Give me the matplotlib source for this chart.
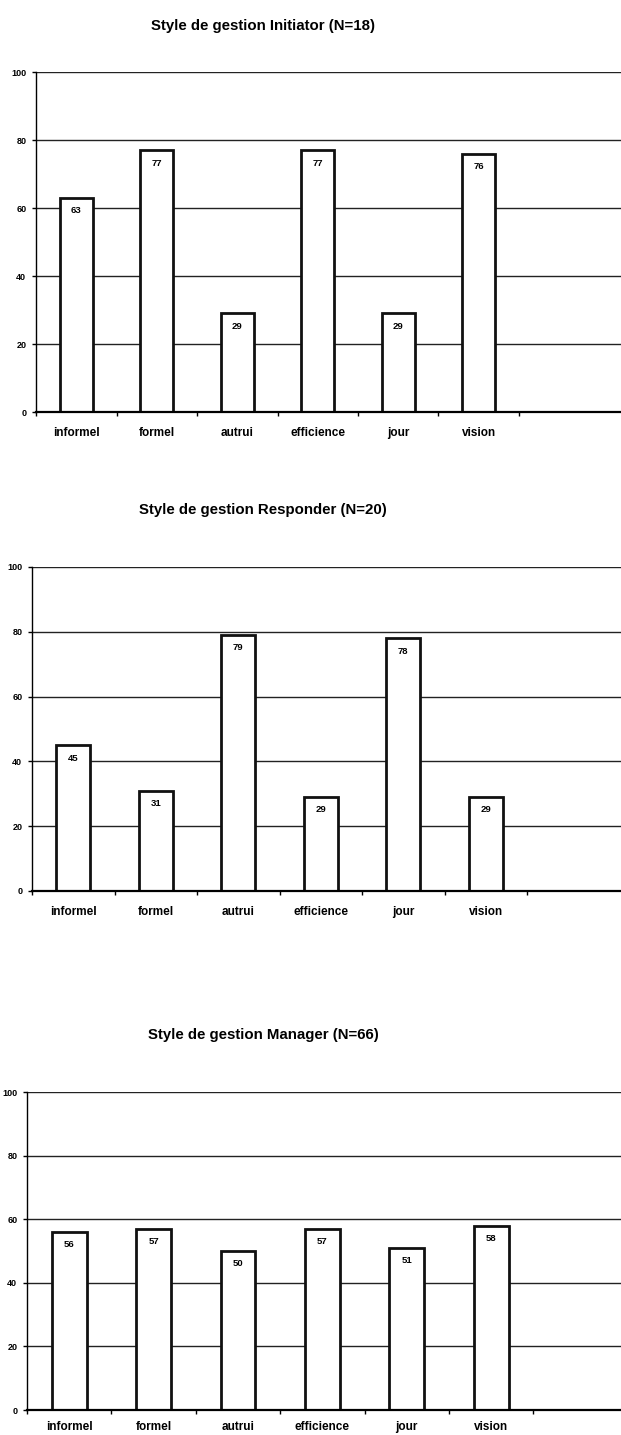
#!/usr/bin/env python3
## Three bar charts - "Style de gestion" scores per category
import numpy as np
import matplotlib
matplotlib.use("Agg")
from matplotlib import pyplot as plt

##################---------Data---------########################################
categories = ['informel', 'formel', 'autrui', 'efficience', 'jour', 'vision']

titles = ['Style de gestion Initiator (N=18)',
          'Style de gestion Responder (N=20)',
          'Style de gestion Manager (N=66)']

initiator = [63, 77, 29, 77, 29, 76]
responder = [45, 31, 79, 29, 78, 29]
manager = [56, 57, 50, 57, 51, 58]

y_ticks = [0, 20, 40, 60, 80, 100]

##################---------Layout (pixels of the page)---------#################
W, H = 621, 1435
# left axis x, y of 100, y of 0, width of one category, title y, label pad
panels = [(36, 72, 412, 80.5, 26, 11),
          (32, 567, 891, 82.5, 510, 11),
          (27, 1092, 1410, 84.4, 1035, 8)]

plt.rcParams['font.family'] = ['Liberation Sans', 'DejaVu Sans']


def draw_panel(fig, values, title, layout):
    x0, ytop, ybot, cat_w, ty, lpad = layout
    ax = fig.add_axes([x0 / W, 1 - ybot / H, 1 - x0 / W, (ybot - ytop) / H])
    n = len(values)
    x = np.arange(n)
    ax.set_xlim(-0.5, (W - x0) / cat_w - 0.5)
    ax.set_ylim(0, 100)

    ## grid lines behind the bars
    for t in y_ticks[1:]:
        ax.axhline(t, color='#222222', lw=1.0, zorder=1)

    bars = ax.bar(x, values, width=0.41, color='white', edgecolor='#111111',
                  linewidth=2.0, zorder=2)
    for b, v in zip(bars, values):
        ax.annotate(str(v), (b.get_x() + b.get_width() / 2, v),
                    xytext=(0, -6), textcoords='offset points',
                    ha='center', va='top', fontsize=6.8, fontweight='bold',
                    zorder=3)

    ## axes look
    for s in ['top', 'right']:
        ax.spines[s].set_visible(False)
    ax.spines['left'].set_linewidth(1.0)
    ax.spines['bottom'].set_linewidth(1.6)
    ax.set_yticks(y_ticks)
    ax.set_yticklabels([str(t) for t in y_ticks], fontsize=6.5,
                       fontweight='bold')
    ax.tick_params(axis='y', length=3, width=1, pad=4)
    ax.set_xticks(x)
    ax.set_xticklabels(categories, fontsize=8.5, fontweight='bold')
    ax.set_xticks(np.arange(n + 1) - 0.5, minor=True)
    ax.tick_params(axis='x', which='major', length=0, pad=lpad)
    ax.tick_params(axis='x', which='minor', length=3, width=1)

    fig.text(263 / W, 1 - ty / H, title, ha='center', va='center',
             fontsize=10.8, fontweight='bold')
    return ax


def main():
    fig = plt.figure(figsize=(W / 100, H / 100), dpi=100)
    fig.patch.set_facecolor('white')
    series = [initiator, responder, manager]
    for vals, t, lay in zip(series, titles, panels):
        draw_panel(fig, vals, t, lay)
    fig.savefig('out.png', dpi=100)


if __name__ == '__main__':
    main()
